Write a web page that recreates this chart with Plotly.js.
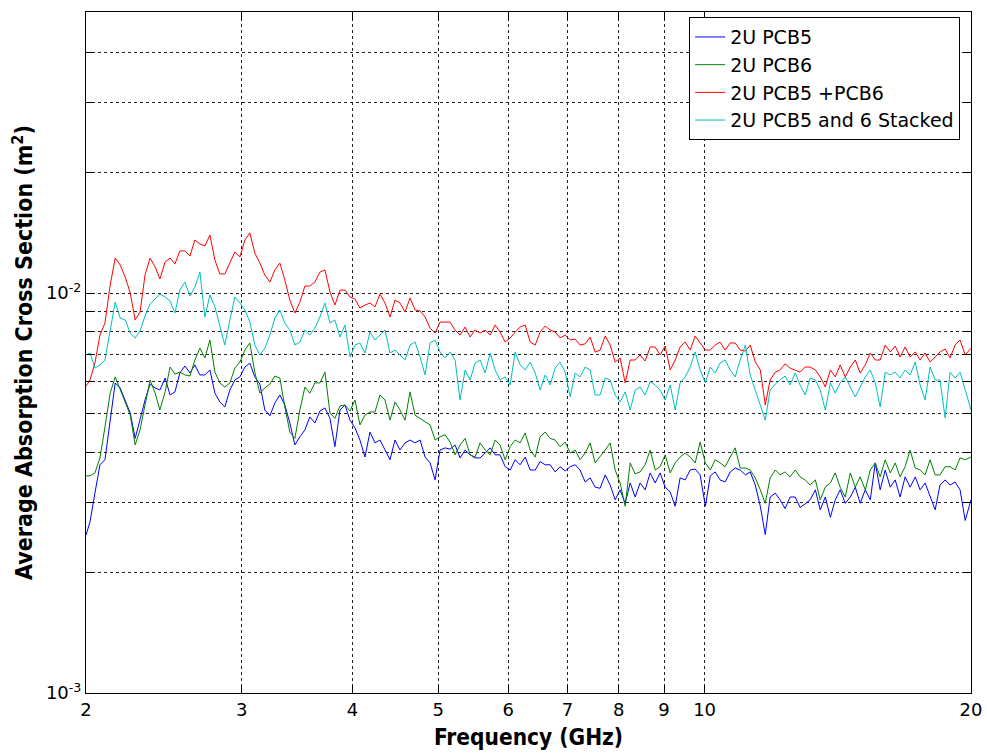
<!DOCTYPE html>
<html>
<head>
<meta charset="utf-8">
<script src="https://cdn.plot.ly/plotly-3.0.1.min.js"></script>
<style>html,body{margin:0;padding:0;background:#fff;}#chart{width:987px;height:754px;}</style>
</head>
<body>
<div id="chart"></div>
<script>
// Frequency samples (GHz)
const freqGHz = [
  2.000, 2.021, 2.047, 2.074, 2.101, 2.130, 2.158, 2.186, 2.215, 2.244,
  2.273, 2.302, 2.332, 2.363, 2.394, 2.424, 2.457, 2.489, 2.521, 2.553,
  2.587, 2.621, 2.655, 2.690, 2.725, 2.761, 2.797, 2.833, 2.870, 2.908,
  2.946, 2.985, 3.024, 3.063, 3.103, 3.144, 3.185, 3.227, 3.269, 3.312,
  3.355, 3.399, 3.444, 3.489, 3.535, 3.581, 3.628, 3.676, 3.724, 3.773,
  3.822, 3.873, 3.923, 3.975, 4.027, 4.079, 4.133, 4.187, 4.242, 4.297,
  4.354, 4.411, 4.469, 4.527, 4.587, 4.647, 4.708, 4.770, 4.832, 4.896,
  4.960, 5.024, 5.091, 5.157, 5.225, 5.293, 5.363, 5.433, 5.504, 5.576,
  5.650, 5.724, 5.799, 5.873, 5.952, 6.030, 6.109, 6.188, 6.270, 6.352,
  6.436, 6.518, 6.605, 6.692, 6.779, 6.866, 6.958, 7.049, 7.141, 7.233,
  7.329, 7.425, 7.522, 7.620, 7.721, 7.822, 7.924, 8.027, 8.133, 8.240,
  8.347, 8.455, 8.567, 8.680, 8.793, 8.907, 9.025, 9.144, 9.263, 9.383,
  9.507, 9.632, 9.758, 9.885, 10.02, 10.15, 10.28, 10.41, 10.55, 10.69,
  10.83, 10.97, 11.12, 11.26, 11.41, 11.56, 11.71, 11.86, 12.02, 12.17,
  12.33, 12.49, 12.66, 12.82, 12.99, 13.16, 13.34, 13.51, 13.69, 13.87,
  14.05, 14.23, 14.42, 14.61, 14.80, 14.99, 15.19, 15.39, 15.59, 15.79,
  16.00, 16.21, 16.42, 16.63, 16.85, 17.07, 17.30, 17.52, 17.75, 17.98,
  18.22, 18.45, 18.70, 18.94, 19.19, 19.44, 19.70, 20.00
];

// Average absorption cross section, in units of 10^-3 m^2
const UNIT = 1e-3;
const pcb5 = [
  2.48, 2.68, 3.16, 3.72, 3.83, 4.87, 5.96, 5.79, 5.40, 5.01,
  4.33, 4.81, 5.40, 5.92, 5.79, 5.72, 6.13, 5.56, 5.66, 6.31,
  6.57, 6.31, 6.61, 6.24, 6.24, 6.42, 5.62, 5.34, 5.19, 5.72,
  6.06, 6.17, 6.53, 6.68, 6.17, 5.92, 5.10, 4.93, 5.31, 5.56,
  5.25, 4.73, 4.17, 4.37, 4.55, 4.90, 4.73, 5.07, 5.16, 4.86,
  4.13, 5.10, 5.25, 4.81, 4.60, 4.29, 3.89, 4.49, 4.22, 4.29,
  4.05, 3.83, 4.29, 4.05, 4.22, 4.29, 4.22, 4.29, 3.89, 3.76,
  3.41, 4.05, 4.10, 4.07, 4.17, 3.87, 4.05, 3.94, 3.87, 3.87,
  3.98, 4.10, 3.94, 3.94, 3.68, 3.61, 3.83, 3.72, 3.89, 3.61,
  3.61, 3.79, 3.72, 3.72, 3.57, 3.68, 3.59, 3.68, 3.72, 3.61,
  3.37, 3.45, 3.27, 3.25, 3.51, 3.31, 3.04, 3.22, 2.98, 3.35,
  3.09, 3.35, 3.22, 3.55, 3.35, 3.55, 3.27, 3.18, 2.93, 3.45,
  3.41, 3.61, 3.63, 3.51, 2.93, 3.49, 3.57, 3.41, 3.37, 3.57,
  3.65, 3.61, 3.51, 3.57, 3.31, 2.93, 2.49, 3.09, 3.16, 3.04,
  2.89, 3.09, 3.09, 2.91, 2.97, 3.04, 3.22, 2.87, 3.09, 2.75,
  3.04, 3.22, 2.98, 3.09, 3.27, 2.98, 3.22, 3.04, 3.76, 3.22,
  3.61, 3.27, 3.41, 3.09, 3.47, 3.27, 3.47, 3.22, 3.35, 3.09,
  2.87, 3.31, 3.41, 3.31, 3.37, 3.22, 2.70, 3.04
];
const pcb6 = [
  3.49, 3.49, 3.55, 3.87, 4.62, 5.62, 6.17, 5.72, 5.28, 4.95,
  4.17, 4.55, 5.25, 6.06, 5.62, 5.10, 5.66, 6.53, 6.27, 6.34,
  6.24, 6.20, 6.80, 7.28, 6.88, 7.63, 6.34, 5.96, 5.82, 5.96,
  6.49, 6.72, 7.20, 7.50, 6.34, 5.62, 5.79, 5.92, 6.20, 6.13,
  5.19, 4.49, 4.33, 5.10, 5.82, 5.62, 5.96, 5.96, 6.34, 5.01,
  4.86, 5.22, 5.25, 5.07, 5.40, 4.68, 4.95, 5.04, 5.04, 5.56,
  5.40, 4.81, 5.34, 5.10, 4.81, 5.66, 4.95, 4.86, 4.76, 4.68,
  4.29, 4.37, 4.42, 4.24, 3.94, 4.17, 4.33, 3.94, 3.89, 4.22,
  4.05, 3.94, 4.29, 4.17, 3.83, 4.13, 4.29, 4.22, 4.47, 4.05,
  3.89, 4.37, 4.49, 4.33, 4.29, 4.13, 4.24, 3.98, 4.05, 3.83,
  3.98, 4.22, 3.76, 3.89, 4.05, 4.22, 3.61, 3.35, 2.93, 3.76,
  3.53, 3.57, 3.72, 4.05, 3.61, 3.68, 3.94, 3.55, 3.76, 3.89,
  3.98, 3.89, 3.76, 4.24, 3.76, 3.61, 3.83, 3.76, 3.68, 3.89,
  4.10, 3.65, 3.65, 3.61, 3.45, 3.22, 2.98, 3.45, 3.61, 3.51,
  3.57, 3.47, 3.61, 3.47, 3.41, 3.31, 3.41, 3.04, 3.27, 3.35,
  3.55, 3.27, 3.09, 3.55, 3.27, 3.47, 3.22, 3.61, 3.76, 3.47,
  3.83, 3.55, 3.76, 3.47, 3.68, 4.05, 3.65, 3.61, 3.51, 3.83,
  3.51, 3.51, 3.68, 3.68, 3.61, 3.87, 3.83, 3.89
];
const pcb5plus6 = [
  5.85, 6.06, 6.68, 7.85, 8.41, 10.47, 12.23, 11.75, 10.96, 10.00,
  8.56, 8.96, 11.09, 12.23, 11.62, 10.84, 11.95, 12.23, 11.82, 12.74,
  12.74, 12.37, 13.57, 13.26, 13.11, 13.96, 12.09, 11.16, 11.16, 11.88,
  12.66, 12.31, 13.57, 14.13, 12.59, 11.88, 11.09, 10.65, 11.42, 11.88,
  10.78, 9.60, 8.91, 9.49, 10.41, 10.41, 10.65, 11.28, 11.42, 10.06,
  9.33, 10.17, 10.17, 9.77, 9.66, 9.17, 9.33, 9.44, 9.23, 9.94,
  9.44, 8.71, 9.60, 9.44, 8.96, 9.72, 9.07, 9.02, 8.71, 8.17,
  7.94, 8.46, 8.46, 8.46, 8.08, 7.85, 8.22, 7.76, 8.08, 7.94,
  8.08, 7.85, 8.32, 7.99, 7.54, 7.72, 7.99, 8.22, 8.32, 7.54,
  7.41, 7.99, 8.27, 8.08, 7.99, 7.72, 7.85, 7.63, 7.67, 7.41,
  7.46, 7.76, 7.12, 7.20, 7.81, 7.41, 6.72, 6.88, 5.96, 6.80,
  6.80, 7.00, 6.76, 7.33, 7.33, 7.00, 7.37, 6.42, 6.80, 7.33,
  7.54, 7.20, 7.81, 7.50, 7.20, 7.20, 7.41, 7.54, 7.20, 7.50,
  7.50, 7.20, 7.16, 7.41, 6.72, 6.42, 5.25, 6.06, 6.34, 6.42,
  6.65, 6.49, 6.42, 6.34, 6.53, 6.53, 6.42, 6.17, 5.82, 6.42,
  6.17, 6.61, 6.17, 6.53, 6.80, 6.31, 6.61, 7.08, 6.80, 6.80,
  7.41, 7.12, 7.37, 6.92, 7.33, 6.92, 7.12, 6.80, 7.08, 6.72,
  6.92, 7.12, 7.24, 6.88, 7.41, 7.63, 7.00, 7.28
];
const pcb56stacked = [
  7.00, 7.08, 6.49, 6.61, 6.80, 8.08, 9.49, 8.66, 8.56, 7.94,
  7.72, 8.04, 8.76, 9.39, 9.66, 9.94, 9.77, 9.55, 8.91, 10.17,
  10.65, 9.83, 10.35, 11.28, 8.71, 9.89, 9.23, 8.32, 7.41, 8.56,
  9.77, 9.44, 9.07, 8.46, 7.41, 7.00, 7.28, 7.85, 8.66, 9.07,
  8.41, 8.08, 7.41, 7.54, 8.08, 7.85, 8.17, 8.71, 9.44, 8.41,
  8.56, 7.76, 8.32, 6.92, 7.41, 7.50, 7.08, 7.99, 7.63, 7.85,
  8.08, 7.08, 7.20, 7.00, 6.80, 7.41, 7.54, 6.92, 6.24, 7.50,
  7.63, 7.12, 6.88, 7.12, 6.80, 5.40, 6.42, 6.06, 6.68, 6.80,
  6.31, 7.08, 6.42, 6.06, 6.17, 5.89, 7.12, 6.61, 6.42, 6.72,
  6.31, 5.72, 6.24, 5.89, 6.49, 6.72, 6.34, 5.50, 6.31, 6.17,
  6.53, 6.42, 5.56, 5.56, 6.13, 6.06, 5.56, 5.34, 5.66, 5.10,
  5.72, 5.82, 5.56, 6.00, 5.89, 5.72, 5.40, 5.89, 5.10, 5.96,
  6.17, 6.53, 7.12, 6.42, 5.96, 6.53, 6.31, 6.68, 6.80, 6.42,
  6.17, 6.80, 7.41, 6.24, 5.72, 5.25, 4.81, 5.72, 5.92, 6.06,
  6.20, 5.89, 6.31, 5.89, 5.56, 6.13, 6.06, 5.72, 5.10, 5.96,
  5.62, 5.96, 6.17, 5.82, 5.50, 5.82, 6.17, 6.42, 5.96, 5.19,
  6.34, 6.24, 6.34, 6.13, 6.42, 6.24, 6.72, 5.89, 5.40, 6.53,
  6.06, 6.06, 4.87, 6.34, 6.13, 6.34, 5.72, 5.10
];

const seriesNames = ['2U PCB5', '2U PCB6', '2U PCB5 +PCB6', '2U PCB5 and 6 Stacked'];
const seriesColors = ['#0000ff', '#008000', '#ff0000', '#00bfbf'];
const seriesValues = [pcb5, pcb6, pcb5plus6, pcb56stacked];

const xTickVals = [2, 3, 4, 5, 6, 7, 8, 9, 10, 20];
const xTickText = ['2', '3', '4', '5', '6', '7', '8', '9', '10', '20'];
const yTickVals = [0.001, 0.002, 0.003, 0.004, 0.005, 0.006, 0.007, 0.008, 0.009, 0.01, 0.02, 0.03, 0.04];
const yTickText = ['10<sup>-3</sup>', '', '', '', '', '', '', '', '', '10<sup>-2</sup>', '', '', ''];

const traces = seriesValues.map((vals, i) => ({
  x: freqGHz,
  y: vals.map(v => v * UNIT),
  type: 'scatter',
  mode: 'lines',
  name: seriesNames[i],
  line: {color: seriesColors[i], width: 1}
}));

const titleFamily = 'DejaVu Sans Condensed, DejaVu Sans, sans-serif';

const gridStyle = {
  showgrid: true,
  gridcolor: '#222222',
  griddash: '3px,3px',
  gridwidth: 1,
  zeroline: false,
  showline: true,
  linecolor: '#000000',
  linewidth: 1,
  mirror: 'ticks',
  ticks: 'inside',
  ticklen: 8,
  tickwidth: 1,
  tickcolor: '#000000'
};

const layout = {
  width: 987,
  height: 754,
  margin: {l: 86, r: 16, t: 12, b: 61, pad: 0},
  paper_bgcolor: '#ffffff',
  plot_bgcolor: '#ffffff',
  showlegend: true,
  legend: {
    x: 0.6815, y: 0.9925, xanchor: 'left', yanchor: 'top',
    bgcolor: '#ffffff', bordercolor: '#000000', borderwidth: 1,
    font: {family: 'DejaVu Sans', size: 19, color: '#000000'}
  },
  xaxis: Object.assign({}, gridStyle, {
    type: 'log',
    range: [Math.log10(2), Math.log10(20)],
    tickmode: 'array',
    tickvals: xTickVals,
    ticktext: xTickText,
    tickfont: {family: 'DejaVu Sans', size: 18, color: '#000000'},
    title: {text: 'Frequency (GHz)', standoff: 10,
      font: {family: titleFamily, size: 22.5, color: '#000000', weight: 'bold'}},
    automargin: false
  }),
  yaxis: Object.assign({}, gridStyle, {
    type: 'log',
    range: [-3, -1.2975],
    tickmode: 'array',
    tickvals: yTickVals,
    ticktext: yTickText,
    tickfont: {family: 'DejaVu Sans', size: 18, color: '#000000'},
    title: {text: 'Average Absorption Cross Section (m<sup>2</sup>)', standoff: 6,
      font: {family: titleFamily, size: 23, color: '#000000', weight: 'bold'}},
    automargin: false
  })
};

Plotly.newPlot('chart', traces, layout, {displayModeBar: false, staticPlot: true});
</script>
</body>
</html>
